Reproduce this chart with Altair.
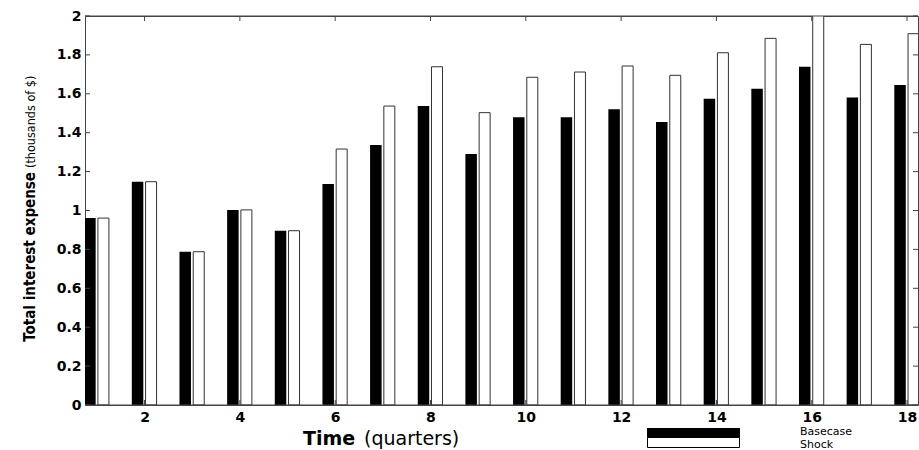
import altair as alt
import pandas as pd

# ---- data ----
quarters = list(range(1, 19))
basecase = [0.961, 1.148, 0.788, 1.003, 0.896, 1.136, 1.337, 1.537, 1.290,
            1.479, 1.479, 1.520, 1.455, 1.575, 1.626, 1.739, 1.581, 1.645]
shock = [0.961, 1.148, 0.788, 1.003, 0.896, 1.316, 1.537, 1.739, 1.503,
         1.685, 1.712, 1.743, 1.695, 1.811, 1.885, 2.050, 1.854, 1.909]
y_ticks = [0, 0.2, 0.4, 0.6, 0.8, 1.0, 1.2, 1.4, 1.6, 1.8, 2.0]
x_ticks = [2, 4, 6, 8, 10, 12, 14, 16, 18]
series_names = ["Basecase", "Shock"]
y_title_parts = ["Total interest expense", "(thousands of $)"]
x_title_parts = ["Time", "(quarters)"]

W, H = 833, 389
AX = "#444444"

df = pd.DataFrame({"t": quarters, "Basecase": basecase, "Shock": shock})
ydf = pd.DataFrame({"v": y_ticks})
xdf = pd.DataFrame({"v": x_ticks})

x_scale = alt.Scale(domain=[0.75, 18.23], nice=False, zero=False, padding=0)
y_scale = alt.Scale(domain=[0, 2], nice=False, zero=True)

x_axis = alt.Axis(values=x_ticks, title=None, grid=False, domain=False, ticks=False,
                  labelFont="DejaVu Sans", labelFontWeight="bold", labelFontSize=14,
                  labelColor="black", labelPadding=5)
y_axis = alt.Axis(values=y_ticks, format="~g", title=None, grid=False, domain=False,
                  ticks=False, labelFont="DejaVu Sans", labelFontWeight="bold",
                  labelFontSize=14, labelColor="black", labelPadding=4)


def X(field):
    return alt.X(field, scale=x_scale, axis=x_axis)


def Y(field):
    return alt.Y(field, scale=y_scale, axis=y_axis)


base = alt.Chart(df)
black = base.mark_bar(color="black", width=11.5, xOffset=-7, clip=True,
                      orient="vertical").encode(x=X("t:Q"), y=Y("Basecase:Q"))
white = base.mark_bar(fill="white", stroke="#333333", strokeWidth=1, width=11,
                      xOffset=6.5, clip=True,
                      orient="vertical").encode(x=X("t:Q"), y=Y("Shock:Q"))

# inward ticks
tick_left = alt.Chart(ydf).mark_rule(color=AX).encode(
    y=Y("v:Q"), x=alt.value(0), x2=alt.value(5))
tick_right = alt.Chart(ydf).mark_rule(color=AX).encode(
    y=Y("v:Q"), x=alt.value(W - 5), x2=alt.value(W))
tick_top = alt.Chart(xdf).mark_rule(color=AX).encode(
    x=X("v:Q"), y=alt.value(0), y2=alt.value(5))
tick_bottom = alt.Chart(xdf).mark_rule(color=AX).encode(
    x=X("v:Q"), y=alt.value(H - 5), y2=alt.value(H))

# box drawn over the bars
frame_df = pd.DataFrame({"s": ["frame"]})
frame_top = alt.Chart(frame_df).mark_rule(color=AX).encode(
    x=alt.value(0), x2=alt.value(W), y=alt.value(0))
frame_bottom = alt.Chart(frame_df).mark_rule(color=AX).encode(
    x=alt.value(0), x2=alt.value(W), y=alt.value(H))

# axis titles (mixed weights)
ytitle_a = alt.Chart(pd.DataFrame({"s": [y_title_parts[0]]})).mark_text(
    angle=270, align="right", baseline="alphabetic", font="DejaVu Sans Condensed",
    fontWeight="bold", fontSize=15, color="black").encode(
    text="s:N", x=alt.value(-50), y=alt.value(156))
ytitle_b = alt.Chart(pd.DataFrame({"s": [y_title_parts[1]]})).mark_text(
    angle=270, align="left", baseline="alphabetic", font="DejaVu Sans Condensed",
    fontSize=12.5, color="black").encode(
    text="s:N", x=alt.value(-50), y=alt.value(152))

xtitle_a = alt.Chart(pd.DataFrame({"s": [x_title_parts[0]]})).mark_text(
    align="left", baseline="alphabetic", font="DejaVu Sans", fontWeight="bold",
    fontSize=19, color="black").encode(
    text="s:N", x=alt.value(218), y=alt.value(429))
xtitle_b = alt.Chart(pd.DataFrame({"s": [x_title_parts[1]]})).mark_text(
    align="left", baseline="alphabetic", font="DejaVu Sans",
    fontSize=19, color="black").encode(
    text="s:N", x=alt.value(279), y=alt.value(429))

# legend
leg_black = alt.Chart(pd.DataFrame({"s": [series_names[0]]})).mark_rect(
    color="black").encode(x=alt.value(562), x2=alt.value(655),
                          y=alt.value(412), y2=alt.value(421.5))
leg_white = alt.Chart(pd.DataFrame({"s": [series_names[1]]})).mark_rect(
    fill="white", stroke="black", strokeWidth=1).encode(
    x=alt.value(562.5), x2=alt.value(654.5), y=alt.value(421.5), y2=alt.value(431.5))
leg_t1 = alt.Chart(pd.DataFrame({"s": [series_names[0]]})).mark_text(
    align="left", baseline="alphabetic", font="DejaVu Sans", fontSize=11,
    color="black").encode(text="s:N", x=alt.value(715), y=alt.value(418.5))
leg_t2 = alt.Chart(pd.DataFrame({"s": [series_names[1]]})).mark_text(
    align="left", baseline="alphabetic", font="DejaVu Sans", fontSize=11,
    color="black").encode(text="s:N", x=alt.value(715), y=alt.value(432))

chart = alt.layer(
    black, white, tick_left, tick_right, tick_top, tick_bottom,
    frame_top, frame_bottom,
    ytitle_a, ytitle_b, xtitle_a, xtitle_b,
    leg_black, leg_white, leg_t1, leg_t2,
).properties(
    width=W, height=H,
    padding={"left": 85, "top": 16, "right": 1, "bottom": 45},
    autosize=alt.AutoSizeParams(type="none"),
    background="white",
).configure_view(stroke=AX, strokeWidth=1)

chart.save("out.html", embed_options={"renderer": "svg", "actions": False})
